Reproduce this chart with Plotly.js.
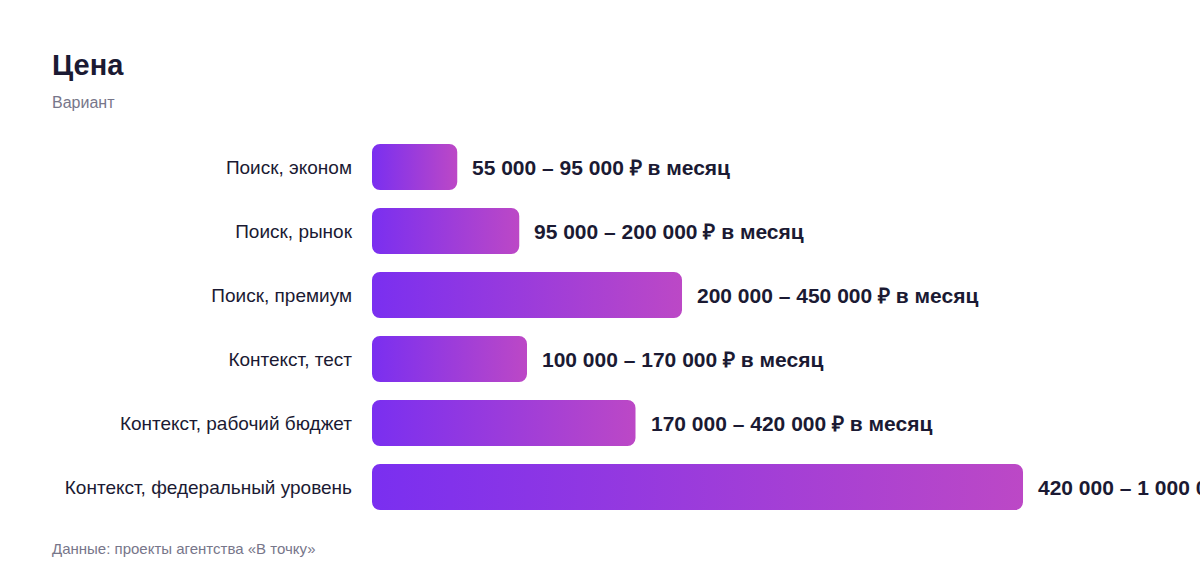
<!DOCTYPE html>
<html>
<head>
<meta charset="utf-8">
<script src="https://cdn.plot.ly/plotly-3.0.1.min.js"></script>
<style>
  html, body { margin: 0; padding: 0; background: #ffffff; }
  #grafica { width: 1200px; height: 584px; }
</style>
</head>
<body>
<div id="grafica"></div>
<script>
// Варианты и нижние границы цены (длина полосы = нижняя граница)
let variantes = [
  "Поиск, эконом",
  "Поиск, рынок",
  "Поиск, премиум",
  "Контекст, тест",
  "Контекст, рабочий бюджет",
  "Контекст, федеральный уровень"
];
let precio_min = [55000, 95000, 200000, 100000, 170000, 420000];
let precio_max = ["95 000", "200 000", "450 000", "170 000", "420 000", "1 000 000"];
let precio_min_txt = ["55 000", "95 000", "200 000", "100 000", "170 000", "420 000"];

let fuente = "Liberation Sans, Arial, sans-serif";
let color_texto = "#1b1a33";
let color_gris = "#77768a";

// Etiquetas de valor como anotaciones ancladas al final de cada barra
let etiquetas = variantes.map(function (v, i) {
  return {
    x: precio_min[i], y: v, xref: "x", yref: "y",
    text: precio_min_txt[i] + " – " + precio_max[i] + " ₽ в месяц",
    showarrow: false, xanchor: "left", xshift: 13,
    font: { family: fuente, size: 21, color: color_texto, weight: 700 }
  };
});

let layout = {
  width: 1200,
  height: 584,
  paper_bgcolor: "#ffffff",
  plot_bgcolor: "#ffffff",
  margin: { l: 372, r: 24, t: 135, b: 65 },
  showlegend: false,
  bargap: 0.28,
  title: {
    text: "<b>Цена</b>",
    x: 52 / 1200, xref: "container", xanchor: "left",
    y: 1 - 65 / 584, yref: "container", yanchor: "middle",
    font: { family: fuente, size: 29, color: color_texto }
  },
  xaxis: {
    range: [0, 518700],
    visible: false,
    fixedrange: true
  },
  yaxis: {
    autorange: "reversed",
    showgrid: false,
    zeroline: false,
    showline: false,
    ticks: "",
    ticklabelstandoff: 19,
    tickfont: { family: fuente, size: 19, color: color_texto },
    fixedrange: true
  },
  annotations: etiquetas.concat([
    {
      text: "Вариант", xref: "paper", yref: "paper",
      x: (50 - 372) / 804, y: 1 + (135 - 102) / 384,
      xanchor: "left", yanchor: "middle", showarrow: false,
      font: { family: fuente, size: 16, color: color_gris }
    },
    {
      text: "Данные: проекты агентства «В точку»", xref: "paper", yref: "paper",
      x: (50 - 372) / 804, y: -(548 - 519) / 384,
      xanchor: "left", yanchor: "middle", showarrow: false,
      font: { family: fuente, size: 15, color: color_gris }
    }
  ])
};

let data = [{
  type: "bar",
  orientation: "h",
  x: precio_min,
  y: variantes,
  marker: { color: "#9a3ade", cornerradius: 8, line: { width: 0 } },
  hoverinfo: "skip"
}];

let config = { displayModeBar: false, staticPlot: true };

// Degradado por barra y esquinas redondeadas en ambos extremos
let aplicar_degradado = function (div) {
  let svg = div.querySelector("svg.main-svg");
  let defs = svg.querySelector("defs");
  let ns = "http://www.w3.org/2000/svg";
  let grad = document.createElementNS(ns, "linearGradient");
  grad.setAttribute("id", "degradado_barra");
  grad.setAttribute("x1", "0"); grad.setAttribute("y1", "0");
  grad.setAttribute("x2", "1"); grad.setAttribute("y2", "0");
  [["0", "#7a2ff0"], ["1", "#bc48c6"]].forEach(function (s) {
    let stop = document.createElementNS(ns, "stop");
    stop.setAttribute("offset", s[0]);
    stop.setAttribute("stop-color", s[1]);
    grad.appendChild(stop);
  });
  defs.appendChild(grad);
  div.querySelectorAll(".bars .point path").forEach(function (p) {
    let b = p.getBBox();
    let r = 8;
    let x0 = b.x, x1 = b.x + b.width, y0 = b.y, y1 = b.y + b.height;
    p.setAttribute("d",
      "M" + (x0 + r) + "," + y0 + "H" + (x1 - r) +
      "A" + r + "," + r + " 0 0 1 " + x1 + "," + (y0 + r) + "V" + (y1 - r) +
      "A" + r + "," + r + " 0 0 1 " + (x1 - r) + "," + y1 + "H" + (x0 + r) +
      "A" + r + "," + r + " 0 0 1 " + x0 + "," + (y1 - r) + "V" + (y0 + r) +
      "A" + r + "," + r + " 0 0 1 " + (x0 + r) + "," + y0 + "Z");
    p.style.fill = "url(#degradado_barra)";
  });
};

Plotly.newPlot("grafica", data, layout, config).then(aplicar_degradado);
</script>
</body>
</html>
